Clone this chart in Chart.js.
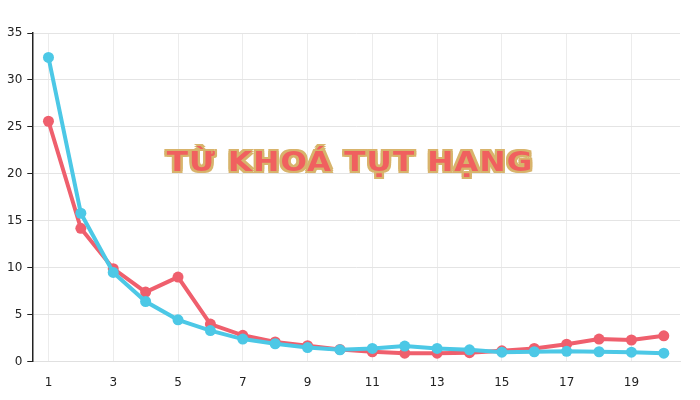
<!DOCTYPE html>
<html>
<head>
<meta charset="utf-8">
<script src="https://cdn.jsdelivr.net/npm/chart.js@4/dist/chart.umd.min.js"></script>
<style>
  html, body { margin: 0; padding: 0; background: #fff; }
  #wrap { position: relative; width: 700px; height: 400px; }
  #title {
    position: absolute; left: 0; width: 700px; top: 146px;
    text-align: center;
    font-family: 'DejaVu Sans', sans-serif; font-weight: bold; font-size: 27px;
    color: #f0605f; letter-spacing: 1px;
    transform: scaleX(1.15);
    text-shadow: -2px -2px 0 #d8b46c, 2px -2px 0 #d8b46c, -2px 2px 0 #d8b46c, 2px 2px 0 #d8b46c,
                 0 -2px 0 #d8b46c, 0 2px 0 #d8b46c, -2px 0 0 #d8b46c, 2px 0 0 #d8b46c;
  }
</style>
</head>
<body>
<div id="wrap">
  <canvas id="chart" width="700" height="400"></canvas>
  <div id="title">TỪ KHOÁ TỤT HẠNG</div>
</div>
<script>
var positions = ['1', '2', '3', '4', '5', '6', '7', '8', '9', '10', '11', '12', '13', '14', '15', '16', '17', '18', '19', '20'];
var blueValues = [32.4, 15.8, 9.5, 6.4, 4.45, 3.3, 2.4, 1.9, 1.5, 1.25, 1.4, 1.65, 1.4, 1.25, 1.0, 1.05, 1.1, 1.05, 1.0, 0.9];
var redValues = [25.6, 14.2, 9.9, 7.4, 9.0, 4.0, 2.8, 2.1, 1.7, 1.3, 1.05, 0.9, 0.9, 0.95, 1.15, 1.4, 1.85, 2.4, 2.3, 2.75];

const ctx = document.getElementById('chart').getContext('2d');
new Chart(ctx, {
  type: 'line',
  data: {
    labels: positions,
    datasets: [{
      data: blueValues,
      borderColor: '#4cc8e6',
      backgroundColor: '#4cc8e6',
      borderWidth: 4,
      pointRadius: 5.5,
      pointBorderWidth: 0,
      fill: false,
    }, {
      data: redValues,
      borderColor: '#ef5f6d',
      backgroundColor: '#ef5f6d',
      borderWidth: 4,
      pointRadius: 5.5,
      pointBorderWidth: 0,
      fill: false,
    }],
  },
  options: {
    responsive: false,
    animation: false,
    layout: {
      padding: {top: 33, right: 20, left: 2, bottom: -4},
    },
    plugins: {
      legend: {display: false},
      tooltip: {enabled: false},
    },
    scales: {
      x: {
        offset: true,
        grid: {offset: false, color: '#ececec', drawTicks: false},
        border: {color: '#e0e0e0'},
        ticks: {
          autoSkip: true, maxTicksLimit: 10, maxRotation: 0, padding: 14,
          color: '#222', font: {family: 'DejaVu Sans', size: 12},
        },
      },
      y: {
        min: 0, max: 35,
        grid: {color: '#e4e4e4', tickColor: '#222', tickLength: 5},
        border: {color: '#222', width: 1.5},
        ticks: {
          stepSize: 5, padding: 5,
          color: '#222', font: {family: 'DejaVu Sans', size: 12},
        },
      },
    },
  },
});
</script>
</body>
</html>
